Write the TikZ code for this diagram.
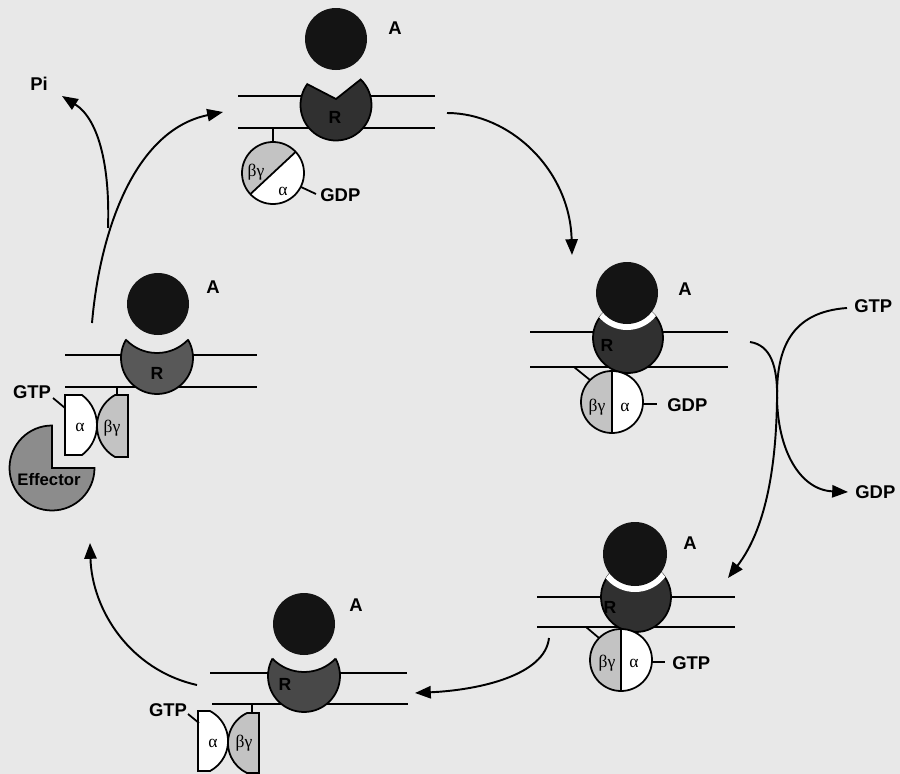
\documentclass[tikz,border=0pt]{standalone}
\usepackage{fontspec}
\setmainfont{Liberation Sans}
\newfontfamily\greekfont{Liberation Serif}
\usetikzlibrary{arrows.meta,calc}
\definecolor{bgc}{RGB}{232,232,232}
\definecolor{rdark}{RGB}{48,48,48}
\definecolor{rmid}{RGB}{72,72,72}
\definecolor{rlight}{RGB}{88,88,88}
\definecolor{bgam}{RGB}{195,195,195}
\definecolor{effc}{RGB}{140,140,140}
\definecolor{agon}{RGB}{20,20,20}
\tikzset{
  mem/.style={line width=1.3pt},
  outl/.style={line width=1pt, draw=black},
  flow/.style={line width=1.1pt, -{Triangle[length=9pt,width=7pt]}},
  lab/.style={font=\bfseries\fontsize{10.5}{12}\selectfont, inner sep=0pt},
  rlab/.style={font=\bfseries\fontsize{10}{12}\selectfont, inner sep=0pt, text=black},
  glab/.style={font=\greekfont\fontsize{10}{12}\selectfont, inner sep=0pt},
}
\begin{document}
\begin{tikzpicture}[x=0.02cm,y=0.02cm]
\fill[bgc] (0,0) rectangle (900,-774);
\useasboundingbox (0,0) rectangle (900,-774);

% ================= Panel 1 (top) =================
\draw[mem] (238,-96) -- (435,-96);
\draw[mem] (238,-128) -- (435,-128);
\draw[mem] (273,-128) -- (273,-142);
\fill[bgc] (336,-105) circle[radius=35.5];
\filldraw[fill=rdark, outl] (336,-99) -- ($(336,-105)+(46:35.5)$) arc[start angle=46, end angle=-216, radius=35.5] -- cycle;
\node[rlab] (r1) at (335,-117) {R};
\fill[agon] (336,-39) circle[radius=31];
\node[lab] (A1) at (395,-28) {A};
\fill[white] (273,-173) circle[radius=31];
\fill[bgam] ($(273,-173)+(43:31)$) arc[start angle=43, end angle=223, radius=31] -- cycle;
\draw[outl] (273,-173) circle[radius=31];
\draw[outl] ($(273,-173)+(43:31)$) -- ($(273,-173)+(223:31)$);
\node[glab] (bg1) at (256,-172) {βγ};
\node[glab] (al1) at (283,-191) {α};
\draw[outl] (301,-187) -- (316,-194);
\node[lab, anchor=west] (gdp1) at (320,-195) {GDP};

% ================= Panel 2 (right middle) =================
\draw[mem] (530,-332) -- (728,-332);
\draw[mem] (530,-367) -- (728,-367);
\draw[outl] (574,-367) -- (590,-380);
\filldraw[fill=rdark, outl] (628,-338) circle[radius=35];
\begin{scope}
  \clip (628,-338) circle[radius=35.5];
  \fill[white] (627,-293) circle[radius=37];
\end{scope}
\node[rlab] (r2) at (607,-345) {R};
\fill[agon] (627,-293) circle[radius=31];
\node[lab] (A2) at (685,-289) {A};
\fill[white] (612,-402) circle[radius=31];
\fill[bgam] (612,-371) arc[start angle=90, end angle=270, radius=31] -- cycle;
\draw[outl] (612,-402) circle[radius=31];
\draw[outl] (612,-371) -- (612,-433);
\node[glab] (bg2) at (597,-407) {βγ};
\node[glab] (al2) at (625,-407) {α};
\draw[outl] (643,-404) -- (657,-404);
\node[lab, anchor=west] (gdp2) at (667,-405) {GDP};

% ================= Panel 3 (right bottom) =================
\draw[mem] (537,-597) -- (735,-597);
\draw[mem] (537,-627) -- (735,-627);
\draw[outl] (586,-627) -- (599,-638);
\filldraw[fill=rdark, outl] (636,-597) circle[radius=35];
\begin{scope}
  \clip (636,-597) circle[radius=35.5];
  \fill[white] (635,-554) circle[radius=38];
\end{scope}
\node[rlab] (r3) at (610,-607) {R};
\fill[agon] (635,-554) circle[radius=32];
\node[lab] (A3) at (690,-543) {A};
\fill[white] (621,-660) circle[radius=31];
\fill[bgam] (621,-629) arc[start angle=90, end angle=270, radius=31] -- cycle;
\draw[outl] (621,-660) circle[radius=31];
\draw[outl] (621,-629) -- (621,-691);
\node[glab] (bg3) at (607,-663) {βγ};
\node[glab] (al3) at (634,-663) {α};
\draw[outl] (652,-662) -- (665,-662);
\node[lab, anchor=west] (gtp3) at (672,-663) {GTP};

% ================= Panel 4 (bottom middle) =================
\draw[mem] (210,-673) -- (407,-673);
\draw[mem] (212,-704) -- (408,-704);
\draw[outl] (252,-704) -- (252,-713);
\fill[bgc] (304,-676) circle[radius=36];
\begin{scope}[even odd rule]
  \clip (-10,10) rectangle (910,-790) (304,-628) circle[radius=44];
  \filldraw[fill=rmid, outl] (304,-676) circle[radius=36];
\end{scope}
\begin{scope}
  \clip (304,-676) circle[radius=36];
  \draw[outl] (304,-628) circle[radius=44];
\end{scope}
\node[rlab] (r4) at (285,-684) {R};
\fill[agon] (304,-624) circle[radius=31];
\node[lab] (A4) at (356,-605) {A};
\filldraw[fill=white, outl] (198,-711) -- (210,-711) arc[start angle=62, end angle=-62, radius=34] -- (198,-771) -- cycle;
\filldraw[fill=bgam, outl] (259,-713) -- (247,-713) arc[start angle=115.3, end angle=244.7, radius=33.2] -- (259,-773) -- cycle;
\node[glab] (al4) at (213,-743) {α};
\node[glab] (bg4) at (244,-743) {βγ};
\node[lab] (gtp4) at (168,-710) {GTP};
\draw[outl] (188,-714) -- (199,-723);

% ================= Panel 5 (left, effector) =================
\draw[mem] (65,-355) -- (257,-355);
\draw[mem] (65,-387) -- (257,-387);
\draw[outl] (117,-387) -- (117,-395);
\fill[bgc] (157,-358) circle[radius=36];
\begin{scope}[even odd rule]
  \clip (-10,10) rectangle (910,-790) (157,-310) circle[radius=43];
  \filldraw[fill=rlight, outl] (157,-358) circle[radius=36];
\end{scope}
\begin{scope}
  \clip (157,-358) circle[radius=36];
  \draw[outl] (157,-310) circle[radius=43];
\end{scope}
\node[rlab] (r5) at (157,-373) {R};
\fill[agon] (158,-304) circle[radius=31];
\node[lab] (A5) at (213,-287) {A};
\filldraw[fill=white, outl] (65,-395) -- (82,-395) arc[start angle=53.13, end angle=-53.13, radius=37.5] -- (65,-455) -- cycle;
\filldraw[fill=bgam, outl] (128,-395) -- (115,-395) arc[start angle=119.7, end angle=240.3, radius=35.7] -- (128,-457) -- cycle;
\node[glab] (al5) at (80,-427) {α};
\node[glab] (bg5) at (112,-428) {βγ};
\node[lab] (gtp5) at (32,-392) {GTP};
\draw[outl] (53,-398) -- (65,-408);
\filldraw[fill=effc, outl] (52,-468) -- (52,-425.5) arc[start angle=90, end angle=360, radius=42.5] -- cycle;
\node[font=\bfseries\fontsize{9.5}{11}\selectfont, inner sep=0pt] (eff) at (49,-480) {Effector};

% ================= Labels for exchange =================
\node[lab] (pi) at (39,-84) {Pi};
\node[lab, anchor=west] (gtpin) at (854,-306) {GTP};
\node[lab, anchor=west] (gdpout) at (855,-492) {GDP};

% ================= Arrows =================
\coordinate (a1s) at (92,-323);
\coordinate (a1e) at (223,-112);
\coordinate (pis) at (108,-228);
\coordinate (pie) at (62,-96);
\coordinate (a2s) at (447,-113);
\coordinate (a2e) at (572,-255);
\coordinate (a3s) at (750,-342);
\coordinate (a3m) at (777,-400);
\coordinate (a3e) at (728,-578);
\coordinate (xs) at (847,-308);
\coordinate (xm) at (777,-395);
\coordinate (xe) at (848,-492);
\coordinate (a4s) at (549,-638);
\coordinate (a4e) at (415,-693);
\coordinate (a5s) at (197,-685);
\coordinate (a5e) at (90,-543);

\draw[flow] (a1s) .. controls (100,-230) and (135,-130) .. (a1e);
\draw[flow] (pis) .. controls (110,-170) and (100,-120) .. (pie);
\draw[flow] (a2s) .. controls (510,-113) and (570,-170) .. (a2e);
\draw[flow] (a3s) .. controls (770,-345) and (778,-365) .. (a3m) .. controls (776,-470) and (765,-530) .. (a3e);
\draw[flow] (xs) .. controls (790,-312) and (777,-350) .. (xm) .. controls (777,-450) and (800,-490) .. (xe);
\draw[flow] (a4s) .. controls (545,-675) and (480,-690) .. (a4e);
\draw[flow] (a5s) .. controls (130,-670) and (92,-610) .. (a5e);
\end{tikzpicture}
\end{document}
